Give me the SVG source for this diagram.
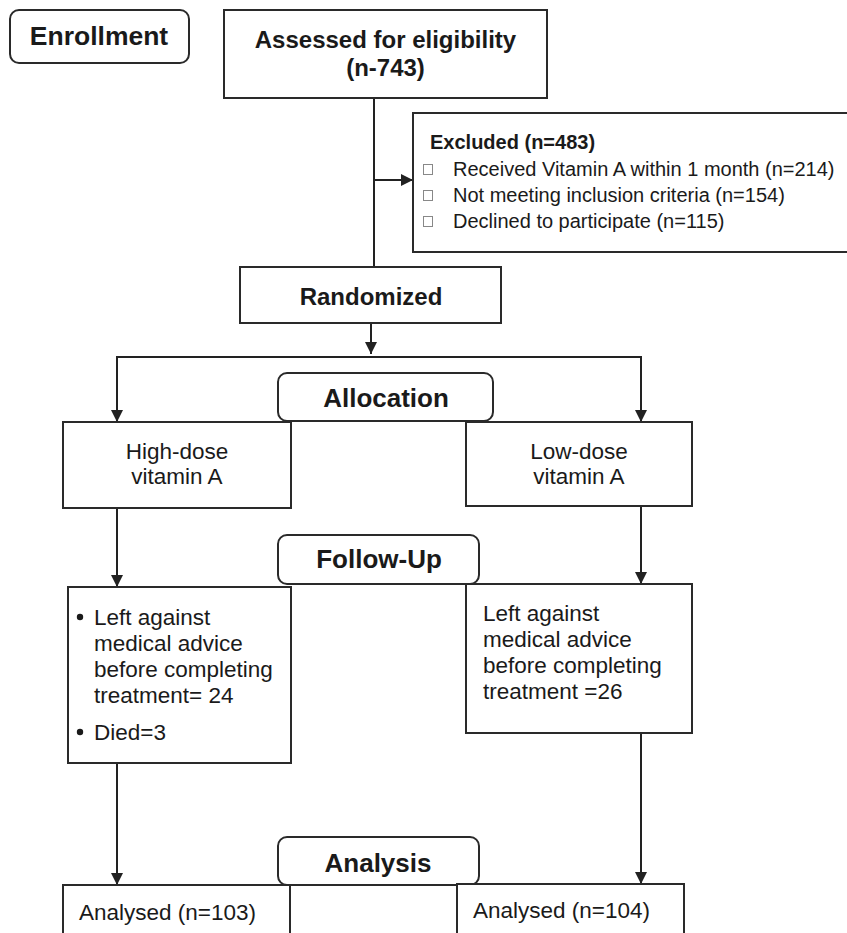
<svg xmlns="http://www.w3.org/2000/svg" width="847" height="933" viewBox="0 0 847 933">
<defs>
<marker id="arr" markerUnits="userSpaceOnUse" markerWidth="12" markerHeight="12" refX="12" refY="6" orient="auto">
<path d="M0,0 L12,6 L0,12 z" fill="#222"/>
</marker>
<style>
.box{fill:#fff;stroke:#2a2a2a;stroke-width:2}
.hdr{font-family:"Liberation Sans",Arial,sans-serif;font-weight:bold;fill:#1a1a1a}
.txt{font-family:"Liberation Sans",Arial,sans-serif;font-size:22.5px;fill:#1a1a1a}
.ex{font-family:"Liberation Sans",Arial,sans-serif;font-size:20px;fill:#1a1a1a}
.cb{fill:none;stroke:#888;stroke-width:1}
.ln{fill:none;stroke:#222;stroke-width:2}
</style>
</defs>
<rect width="847" height="933" fill="#fff"/>

<g id="connectors">
<path class="ln" d="M374,98 V267"/>
<path class="ln" d="M374,180 H413" marker-end="url(#arr)"/>
<path class="ln" d="M371,323 V354" marker-end="url(#arr)"/>
<path class="ln" d="M373,357 H117 V422" marker-end="url(#arr)"/>
<path class="ln" d="M373,357 H641 V422" marker-end="url(#arr)"/>
<path class="ln" d="M117,508 V587" marker-end="url(#arr)"/>
<path class="ln" d="M641,506 V584" marker-end="url(#arr)"/>
<path class="ln" d="M117,763 V885" marker-end="url(#arr)"/>
<path class="ln" d="M641,733 V884" marker-end="url(#arr)"/>
</g>

<g id="enrollment">
<rect class="box" x="10" y="10" width="179" height="53" rx="9"/>
<text class="hdr" x="99" y="45" font-size="26.5" text-anchor="middle">Enrollment</text>
</g>

<g id="assessed">
<rect class="box" x="224" y="10" width="323" height="88"/>
<text class="hdr" x="385.5" y="48" font-size="24" text-anchor="middle">Assessed for eligibility</text>
<text class="hdr" x="385.5" y="76" font-size="24" text-anchor="middle">(n-743)</text>
</g>

<g id="excluded">
<rect class="box" x="413" y="113" width="450" height="139"/>
<text class="ex" x="430" y="149" font-weight="bold">Excluded (n=483)</text>
<rect class="cb" x="423.5" y="164.5" width="9" height="10"/>
<text class="ex" x="453" y="176">Received Vitamin A within 1 month (n=214)</text>
<rect class="cb" x="423.5" y="190.5" width="9" height="10"/>
<text class="ex" x="453" y="202">Not meeting inclusion criteria (n=154)</text>
<rect class="cb" x="423.5" y="216.5" width="9" height="10"/>
<text class="ex" x="453" y="228">Declined to participate (n=115)</text>
</g>

<g id="randomized">
<rect class="box" x="240" y="267" width="261" height="56"/>
<text class="hdr" x="371" y="305" font-size="24" text-anchor="middle">Randomized</text>
</g>

<g id="allocation">
<rect class="box" x="278" y="373" width="215" height="48" rx="9"/>
<text class="hdr" x="386" y="407" font-size="26" text-anchor="middle">Allocation</text>
</g>

<g id="high-dose">
<rect class="box" x="63" y="422" width="228" height="86"/>
<text class="txt" x="177" y="459" text-anchor="middle">High-dose</text>
<text class="txt" x="177" y="484" text-anchor="middle">vitamin A</text>
</g>

<g id="low-dose">
<rect class="box" x="466" y="422" width="226" height="84"/>
<text class="txt" x="579" y="459" text-anchor="middle">Low-dose</text>
<text class="txt" x="579" y="484" text-anchor="middle">vitamin A</text>
</g>

<g id="followup">
<rect class="box" x="278" y="535" width="201" height="49" rx="9"/>
<text class="hdr" x="379" y="568" font-size="26" text-anchor="middle">Follow-Up</text>
</g>

<g id="followup-high">
<rect class="box" x="68" y="587" width="223" height="176"/>
<circle cx="80" cy="617" r="3.2" fill="#1a1a1a"/>
<text class="txt" x="94" y="625">Left against</text>
<text class="txt" x="94" y="651">medical advice</text>
<text class="txt" x="94" y="677">before completing</text>
<text class="txt" x="94" y="703">treatment= 24</text>
<circle cx="80" cy="732" r="3.2" fill="#1a1a1a"/>
<text class="txt" x="94" y="740">Died=3</text>
</g>

<g id="followup-low">
<rect class="box" x="466" y="584" width="226" height="149"/>
<text class="txt" x="483" y="621">Left against</text>
<text class="txt" x="483" y="647">medical advice</text>
<text class="txt" x="483" y="673">before completing</text>
<text class="txt" x="483" y="699">treatment =26</text>
</g>

<g id="analysis">
<rect class="box" x="278" y="837" width="201" height="48" rx="9"/>
<text class="hdr" x="378" y="872" font-size="26" text-anchor="middle">Analysis</text>
</g>

<g id="analysed-high">
<rect class="box" x="63" y="885" width="227" height="70"/>
<text class="txt" x="79" y="920">Analysed (n=103)</text>
</g>

<g id="analysed-low">
<rect class="box" x="457" y="884" width="227" height="70"/>
<text class="txt" x="473" y="918">Analysed (n=104)</text>
</g>
</svg>
